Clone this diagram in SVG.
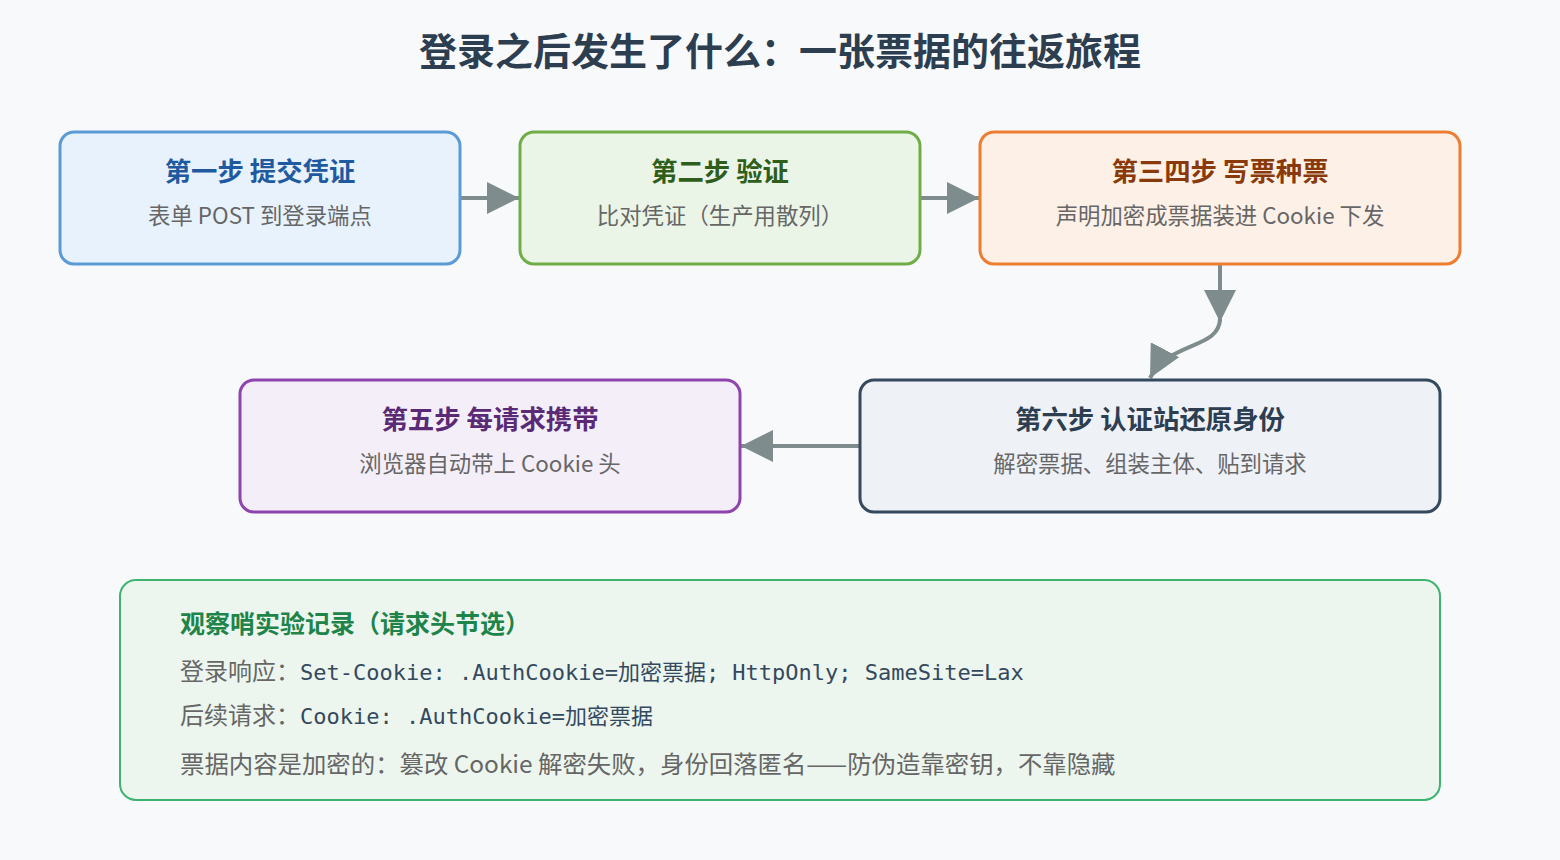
<svg xmlns="http://www.w3.org/2000/svg" width="1560" height="860" viewBox="0 0 1560 860">
<style>
.t{font-family:"Noto Sans CJK SC","Noto Sans",sans-serif;font-weight:700;font-size:26.4px;text-anchor:middle}
.s{font-family:"Noto Sans CJK SC","Noto Sans",sans-serif;font-size:22.4px;fill:#666;text-anchor:middle}
.c{stroke:#7f8c8d;stroke-width:4;fill:none}
.g{font-family:"Noto Sans CJK SC","Noto Sans",sans-serif;font-size:24px;fill:#666}
.m{font-family:"DejaVu Sans Mono","Noto Sans CJK SC",monospace;font-size:22px;fill:#34495e}
</style>
<defs>
<marker id="b" viewBox="0 0 10 10" refX="10" refY="5" markerWidth="32" markerHeight="32" markerUnits="userSpaceOnUse" orient="auto"><path d="M0,0L10,5L0,10z" fill="#7f8c8d"/></marker>
</defs>
<rect width="1560" height="860" fill="#f8f9fa"/>
<text x="780" y="65" font-family="Noto Sans CJK SC,sans-serif" font-weight="700" font-size="38" fill="#2c3e50" text-anchor="middle">登录之后发生了什么：一张票据的往返旅程</text>
<g id="connectors">
<path class="c" d="M461,198H519" marker-end="url(#b)"/>
<path class="c" d="M921,198H979" marker-end="url(#b)"/>
<path class="c" d="M1220,265V322" marker-end="url(#b)"/>
<path class="c" d="M1220,318C1220,350 1170,340 1150,378" marker-end="url(#b)"/>
<path class="c" d="M859,446H741" marker-end="url(#b)"/>
</g>
<g id="n1"><rect x="60" y="132" width="400" height="132" rx="14" fill="#e8f2fc" stroke="#5b9bd5" stroke-width="3"/><text class="t" x="260" y="181" fill="#1f5aa0">第一步 提交凭证</text><text class="s" x="260" y="224">表单 POST 到登录端点</text></g>
<g id="n2"><rect x="520" y="132" width="400" height="132" rx="14" fill="#eaf5e8" stroke="#70ad47" stroke-width="3"/><text class="t" x="720" y="181" fill="#2e5e1a">第二步 验证</text><text class="s" x="720" y="224">比对凭证（生产用散列）</text></g>
<g id="n3"><rect x="980" y="132" width="480" height="132" rx="14" fill="#fdf0e6" stroke="#ed7d31" stroke-width="3"/><text class="t" x="1220" y="181" fill="#8a3a0a">第三四步 写票种票</text><text class="s" x="1220" y="224">声明加密成票据装进 Cookie 下发</text></g>
<g id="n5"><rect x="240" y="380" width="500" height="132" rx="14" fill="#f4eef9" stroke="#8e44ad" stroke-width="3"/><text class="t" x="490" y="429" fill="#5b2a76">第五步 每请求携带</text><text class="s" x="490" y="472">浏览器自动带上 Cookie 头</text></g>
<g id="n6"><rect x="860" y="380" width="580" height="132" rx="14" fill="#eef1f6" stroke="#34495e" stroke-width="3"/><text class="t" x="1150" y="429" fill="#2c3e50">第六步 认证站还原身份</text><text class="s" x="1150" y="472">解密票据、组装主体、贴到请求</text></g>
<g id="note"><rect x="120" y="580" width="1320" height="220" rx="16" fill="#edf6ee" stroke="#3cb371" stroke-width="2"/>
<text x="180" y="633" font-family="Noto Sans CJK SC,sans-serif" font-weight="700" font-size="25" fill="#1e8449">观察哨实验记录（请求头节选）</text>
<text x="180" y="680"><tspan class="g">登录响应：</tspan><tspan class="m">Set-Cookie: .AuthCookie=加密票据; HttpOnly; SameSite=Lax</tspan></text>
<text x="180" y="724"><tspan class="g">后续请求：</tspan><tspan class="m">Cookie: .AuthCookie=加密票据</tspan></text>
<text x="180" y="773" class="g" style="font-size:24.4px">票据内容是加密的：篡改 Cookie 解密失败，身份回落匿名——防伪造靠密钥，不靠隐藏</text>
</g>
</svg>
